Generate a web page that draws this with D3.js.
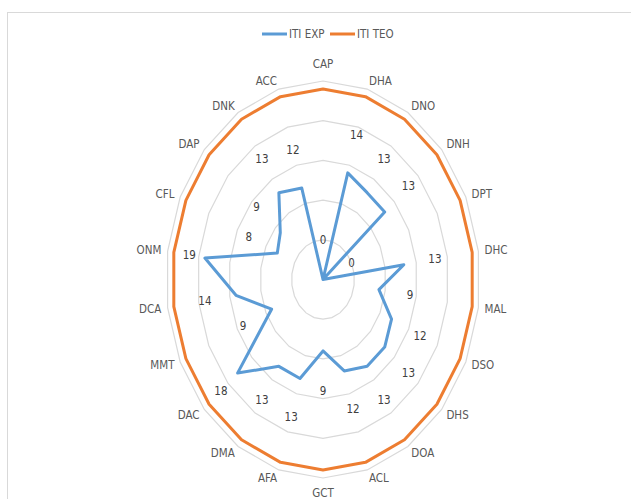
<!DOCTYPE html>
<html>
<head>
<meta charset="utf-8">
<script src="https://cdnjs.cloudflare.com/ajax/libs/d3/7.8.5/d3.min.js"></script>
<style>
	body { margin: 0; background: #fff; }
	text { font-family: "Liberation Sans Narrow", "Arial Narrow", "DejaVu Sans Condensed", sans-serif; }
</style>
</head>
<body>
<script>
// The axes of the radar, clockwise from the top
var categories = ["CAP", "DHA", "DNO", "DNH", "DPT", "DHC", "MAL", "DSO", "DHS", "DOA", "ACL",
	"GCT", "AFA", "DMA", "DAC", "MMT", "DCA", "ONM", "CFL", "DAP", "DNK", "ACC"]

// Values
var itiExp = [0, 14, 13, 13, 0, 13, 9, 12, 13, 13, 12, 9, 13, 13, 18, 9, 14, 19, 8, 9, 13, 12]
var itiTeo = [24, 24, 24, 24, 24, 24, 24, 24, 24, 24, 24, 24, 24, 24, 24, 24, 24, 24, 24, 24, 24, 24]

var seriesNames = ["ITI EXP", "ITI TEO"]
var gridTicks = [5, 10, 15, 20, 25]

var width = 631
var height = 499
var cx = 323
var cy = 279.5
var colors = ["#5B9BD5", "#ED7D31"]

var svg = d3.select("body").append("svg")
	.attr("width", width)
	.attr("height", height)

// the chart area border, it runs off the right and bottom of the picture
svg.append("rect")
	.attr("x", 7.5)
	.attr("y", 12.5)
	.attr("width", 700)
	.attr("height", 600)
	.style("fill", "none")
	.style("stroke", "#d9d9d9")

// The source chart was stretched, so the radius is different on x and y
var rX = d3.scaleLinear().domain([0, 25]).range([0, 157])
var rY = d3.scaleLinear().domain([0, 25]).range([0, 198.5])
var angle = d3.scaleLinear().domain([0, categories.length]).range([0, 2 * Math.PI])

function px(i, v) { return cx + rX(v) * Math.sin(angle(i)) }
function py(i, v) { return cy - rY(v) * Math.cos(angle(i)) }

var radarLine = d3.line()
	.x(function(d, i) { return px(i, d) })
	.y(function(d, i) { return py(i, d) })
	.curve(d3.curveLinearClosed)

// gridlines
svg.selectAll(".grid")
	.data(gridTicks)
	.enter().append("path")
	.attr("class", "grid")
	.attr("d", function(t) { return radarLine(categories.map(function() { return t })) })
	.style("fill", "none")
	.style("stroke", "#d9d9d9")
	.style("stroke-width", 1.2)

// category labels round the outside
svg.selectAll(".cat")
	.data(categories)
	.enter().append("text")
	.attr("class", "cat")
	.attr("x", function(d, i) { return px(i, 26) })
	.attr("y", function(d, i) { return py(i, 26) })
	.attr("dy", function(d, i) {
		var s = Math.sin(angle(i)), c = Math.cos(angle(i))
		if (Math.abs(s) < 0.05) return c > 0 ? "-0.45em" : "0.95em"
		return "0.35em"
	})
	.style("text-anchor", function(d, i) {
		var s = Math.sin(angle(i))
		if (s > 0.05) return "start"
		if (s < -0.05) return "end"
		return "middle"
	})
	.style("font-size", "11.5px")
	.style("fill", "#595959")
	.text(function(d) { return d })

// the two series
var series = [itiExp, itiTeo]
svg.selectAll(".series")
	.data(series)
	.enter().append("path")
	.attr("class", "series")
	.attr("d", function(d) { return radarLine(d) })
	.style("fill", "none")
	.style("stroke", function(d, i) { return colors[i] })
	.style("stroke-width", 3)
	.style("stroke-linejoin", "round")

// data labels of ITI EXP, pushed out a bit from the points
svg.selectAll(".lbl")
	.data(itiExp)
	.enter().append("text")
	.attr("class", "lbl")
	.attr("x", function(d, i) { return px(i, Math.min(d + 5, 21.5)) })
	.attr("y", function(d, i) { return py(i, Math.min(d + 5, 21.5)) })
	.attr("dy", "0.35em")
	.style("text-anchor", "middle")
	.style("font-size", "11.5px")
	.style("fill", "#404040")
	.text(function(d) { return d })

// legend
var legend = svg.selectAll(".legend")
	.data(seriesNames)
	.enter().append("g")
	.attr("class", "legend")
	.attr("transform", function(d, i) { return "translate(" + (262 + i * 68) + ",34)" })

legend.append("line")
	.attr("x1", 0)
	.attr("x2", 25)
	.style("stroke", function(d, i) { return colors[i] })
	.style("stroke-width", 3)

legend.append("text")
	.attr("x", 27)
	.attr("dy", "0.35em")
	.style("font-size", "11.5px")
	.style("fill", "#595959")
	.text(function(d) { return d })
</script>
</body>
</html>
